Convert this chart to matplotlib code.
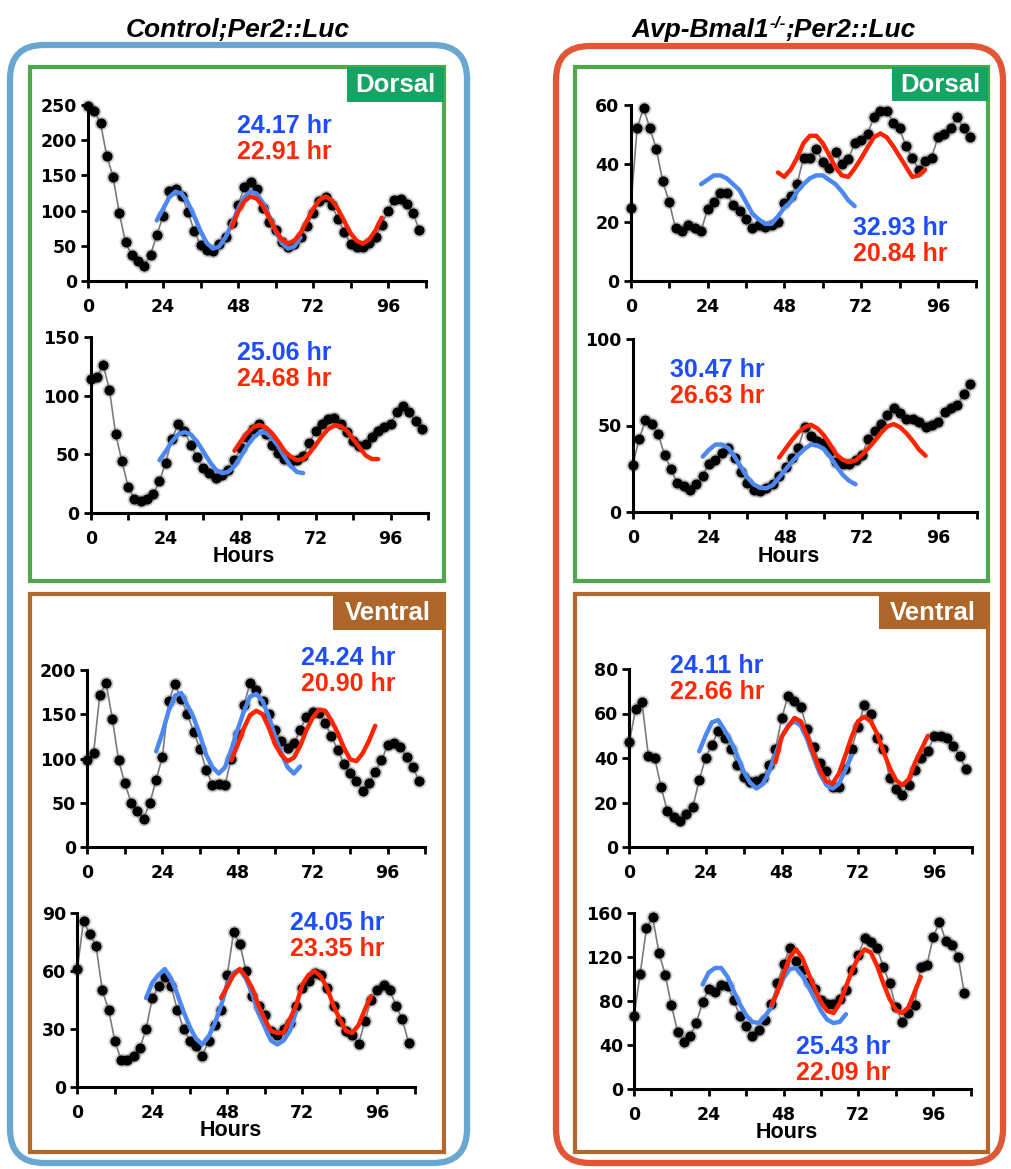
import matplotlib.pyplot as plt
import numpy as np
from matplotlib.patches import FancyBboxPatch, Rectangle

# --- data: bioluminescence traces sampled every 2 h (0..106 h) ---
hours = np.arange(0, 107, 2)

ctl_d1 = [248, 242, 224, 178, 148, 97, 55, 37, 28, 22,
          37, 65, 92, 128, 131, 121, 98, 71, 51, 44,
          43, 52, 63, 82, 108, 133, 141, 131, 103, 84,
          72, 56, 48, 52, 62, 78, 96, 114, 120, 108,
          88, 70, 53, 49, 48, 54, 62, 80, 100, 115,
          116, 110, 97, 72]
ctl_d2 = [114, 116, 126, 105, 67, 44, 22, 12, 10, 12,
          16, 27, 43, 63, 76, 70, 58, 48, 38, 34,
          30, 32, 37, 45, 55, 65, 72, 76, 67, 58,
          51, 46, 44, 45, 49, 60, 70, 76, 80, 81,
          76, 69, 61, 57, 59, 65, 70, 73, 76, 86,
          91, 86, 78, 72]
ctl_v1 = [98, 106, 172, 185, 145, 98, 72, 50, 41, 32,
          50, 76, 102, 165, 184, 167, 150, 130, 111, 87,
          70, 71, 70, 100, 128, 160, 185, 177, 165, 150,
          132, 120, 112, 117, 132, 147, 152, 151, 140, 125,
          110, 94, 84, 75, 63, 72, 85, 98, 115, 118,
          113, 102, 90, 75]
ctl_v2 = [61, 86, 79, 73, 50, 40, 24, 14, 14, 16,
          20, 30, 46, 52, 57, 52, 40, 30, 24, 21,
          16, 24, 32, 40, 58, 80, 74, 60, 47, 42,
          37, 29, 27, 30, 33, 42, 51, 55, 59, 58,
          51, 42, 34, 29, 27, 22, 34, 45, 50, 53,
          50, 42, 35, 23]
ko_d1 = [25, 52, 59, 52, 45, 34, 27, 18, 17, 19,
         18, 17, 24.5, 27, 30, 30, 26, 24, 21, 18,
         19, 18.5, 19, 20, 26.5, 29, 33, 42, 42, 45,
         40.5, 38.5, 44, 40, 41.5, 47, 48, 50, 56, 58,
         58, 54, 52, 46, 42, 38, 41, 42, 49, 50,
         52, 56, 52, 49]
ko_d2 = [27, 42, 53, 51, 45, 33, 25, 16.5, 15, 13,
         16, 21, 28, 30, 34, 37, 31, 23, 17, 13,
         12, 14, 16, 21, 26, 31, 37, 49, 44, 41,
         40, 35, 29, 28, 28, 30, 33, 42, 47, 51,
         56, 60, 57, 54, 54, 52, 49.4, 50.4, 52, 58,
         60, 62, 68, 74]
ko_v1 = [47, 62, 65, 41, 40, 27, 16, 13.5, 11.5, 15,
         18, 30, 40, 46, 52, 49, 44, 37, 31.5, 29.3,
         29.5, 31, 37, 44, 58, 68, 65.5, 63, 53, 45,
         37.6, 34, 27, 27, 35, 44, 54, 64, 60, 49,
         44, 31, 26, 23.5, 28, 34.5, 40, 43, 50, 49.7,
         49, 45.5, 41, 35]
ko_v2 = [66, 105, 146, 156, 124, 104, 76, 52, 43, 48,
         60, 79, 91, 88.5, 95, 94, 81, 66, 57, 48.5,
         53.7, 63, 77, 96, 114, 128, 116, 108, 97, 91,
         81, 77.5, 77, 82, 90, 108, 122, 137, 134, 128,
         111, 96, 75, 61, 69, 76, 111, 113, 138, 152,
         135, 131, 120, 87]

# --- fitted curves (2 h steps): (start hour, values) ---
ctl_d1_blue = (22, [86, 102, 119, 127, 124, 111, 92, 71, 54, 46, 49, 62,
                    81, 102, 119, 127, 124, 111, 92, 71, 54, 46, 49, 62])
ctl_d1_red = (46, [76, 98, 113, 120, 117, 106, 90, 72, 59, 53, 57, 68, 85,
                   102, 115, 120, 115, 102, 85, 68, 57, 53, 59, 72, 90])
ctl_d2_blue = (22, [45, 52.5, 61, 67, 69, 67, 61, 52.5, 44, 37, 34, 35,
                    40, 48, 57, 64, 68.5, 68.5, 64, 57, 48, 40, 35, 34])
ctl_d2_red = (46, [53, 61, 68, 73, 75, 73, 68, 61, 53, 48, 45, 46, 51, 58,
                   65.5, 71.5, 74.5, 74, 70, 63, 56, 49, 46, 46])
ctl_v1_blue = (22, [108, 129, 154, 171, 174, 160, 146, 126, 104, 90, 83, 90,
                    110, 132, 153, 170, 173, 165, 147, 125, 106, 90, 83, 91])
ctl_v1_red = (46, [98, 115, 134, 149, 154, 150, 135, 116, 104, 97, 101, 114,
                   132, 146, 155, 154, 143, 129, 112, 99, 97, 106, 120, 137])
ctl_v2_blue = (22, [46, 54, 58, 61, 56, 48, 39, 31, 25, 22, 26, 33, 42, 53,
                    59, 61, 56, 48, 38, 31, 24, 22, 24, 29, 39])
ctl_v2_red = (46, [46, 52, 58, 61, 57, 51, 42, 35, 29, 28, 28, 35, 42, 53,
                   58, 60, 57, 51, 42, 35, 29, 28, 32, 40, 47])
ko_d1_blue = (22, [33, 34.5, 36, 36, 35, 33, 31, 27, 23, 21, 19.5, 19.5, 22,
                   25, 27, 30.5, 33, 35, 36, 36, 34.5, 33, 30.5, 27.5, 25.5])
ko_d1_red = (46, [37, 35.5, 38, 42, 47, 49.5, 49.5, 47, 43, 38.7, 36, 35.5,
                  38.4, 41.8, 45.5, 49, 50.3, 49, 46, 42.5, 39, 35.5, 36, 38])
ko_d2_blue = (22, [32, 36, 39, 39, 37, 32, 26, 20, 16, 14, 13.7, 15.5, 20,
                   24.5, 29, 33, 36.5, 39, 38.5, 36.5, 32, 26.5, 21.5, 18, 16])
ko_d2_red = (46, [31.5, 36.5, 41.5, 46, 49, 50.4, 48.3, 44.5, 39, 33.2, 30.2,
                  28.8, 29.8, 33, 36.8, 41, 45.8, 49.5, 50.8, 49, 45.5, 41,
                  36, 32.5])
ko_v1_blue = (22, [43, 50, 56, 57, 52.5, 47.5, 41, 34, 29, 26.3, 28.2, 33.8,
                   41.5, 49.5, 54.5, 56.5, 54.5, 48.5, 40.5, 33, 28, 26.2,
                   28.5, 34.5, 41])
ko_v1_red = (46, [38, 49.6, 54, 58, 56.5, 50, 42, 34.5, 29.5, 28.6, 33, 41,
                  49.5, 56.5, 58.6, 56.5, 51, 43, 35.5, 30, 27.8, 30.5, 38,
                  44, 50])
ko_v2_blue = (22, [95, 106, 110, 110, 102, 89, 77, 67, 61, 60, 66, 74, 89,
                   101, 109, 110, 103, 93, 82, 71, 63, 60, 61, 68])
ko_v2_red = (44, [76, 88, 105, 120, 127, 119, 105, 91, 79, 71, 69, 78, 93,
                  108, 120, 127, 124, 112, 96, 82, 72, 69, 74, 88, 102])

periods = {
    'ctl_d1': ('24.17 hr', '22.91 hr'), 'ctl_d2': ('25.06 hr', '24.68 hr'),
    'ctl_v1': ('24.24 hr', '20.90 hr'), 'ctl_v2': ('24.05 hr', '23.35 hr'),
    'ko_d1': ('32.93 hr', '20.84 hr'), 'ko_d2': ('30.47 hr', '26.63 hr'),
    'ko_v1': ('24.11 hr', '22.66 hr'), 'ko_v2': ('25.43 hr', '22.09 hr'),
}

# --- layout (pixels, y measured from top) ---
W, H = 1011, 1169
BLUE_FIT, RED_FIT = '#4d88f0', '#ff2400'
BLUE_TXT, RED_TXT = '#1d4dfd', '#fd2a05'
HEL = 'Liberation Sans'

# name, trace, blue fit, red fit, ymax, ystep, axes box (left, bottom, w, h), text xy, hours label
panels = [
    ('ctl_d1', ctl_d1, ctl_d1_blue, ctl_d1_red, 250, 50, (88, 281, 337.5, 176), (284, 126), False),
    ('ctl_d2', ctl_d2, ctl_d2_blue, ctl_d2_red, 150, 50, (90.7, 513, 337.5, 176), (284, 353), True),
    ('ctl_v1', ctl_v1, ctl_v1_blue, ctl_v1_red, 200, 50, (87.3, 847, 338, 177), (348, 658), False),
    ('ctl_v2', ctl_v2, ctl_v2_blue, ctl_v2_red, 90, 30, (77.3, 1087, 337.5, 174), (337, 923), True),
    ('ko_d1', ko_d1, ko_d1_blue, ko_d1_red, 60, 20, (630.7, 281, 345.6, 176), (900, 228), False),
    ('ko_d2', ko_d2, ko_d2_blue, ko_d2_red, 100, 50, (632.7, 512, 343.8, 173), (717, 370), True),
    ('ko_v1', ko_v1, ko_v1_blue, ko_v1_red, 80, 20, (629.3, 847, 343, 178), (717, 666), False),
    ('ko_v2', ko_v2, ko_v2_blue, ko_v2_red, 160, 40, (634, 1089, 336.6, 176), (843, 1047), True),
]

plt.rcParams['font.family'] = 'DejaVu Sans'
fig = plt.figure(figsize=(W / 100, H / 100), dpi=100)

bg = fig.add_axes([0, 0, 1, 1])
bg.set_xlim(0, W)
bg.set_ylim(H, 0)
bg.axis('off')

# outer rounded frames
bg.add_patch(FancyBboxPatch((10, 45), 457, 1118, boxstyle='round,pad=0,rounding_size=34',
                            fill=False, ec='#69a7d1', lw=4.5))
bg.add_patch(FancyBboxPatch((556, 46), 447, 1117, boxstyle='round,pad=0,rounding_size=34',
                            fill=False, ec='#e05636', lw=4.5))
# dorsal / ventral frames
for x0, w in [(29.5, 414.5), (575, 413)]:
    bg.add_patch(Rectangle((x0, 67), w, 514, fill=False, ec='#4fa84b', lw=3))
    bg.add_patch(Rectangle((x0, 594), w, 558, fill=False, ec='#b0682c', lw=3))
labels = [((347, 67, 97, 35), 'Dorsal', '#15a464'), ((333, 594, 109, 36), 'Ventral', '#ad6529'),
          ((892, 67, 96, 34), 'Dorsal', '#15a464'), ((879, 594, 108, 35), 'Ventral', '#ad6529')]
for (x0, y0, w, h), lab, col in labels:
    bg.add_patch(Rectangle((x0, y0), w, h, fc=col, ec='none'))
    bg.text(x0 + w / 2, y0 + h / 2 + 1, lab, ha='center', va='center', color='white',
            fontsize=18.5, fontweight='bold', family=HEL)

# titles
bg.text(238, 37, 'Control;Per2::Luc', ha='center', va='baseline', fontsize=19,
        fontweight='bold', fontstyle='italic', family=HEL)
t1 = bg.text(632, 37, 'Avp-Bmal1', ha='left', va='baseline', fontsize=19,
             fontweight='bold', fontstyle='italic', family=HEL)
t2 = bg.annotate('-/-', xy=(1, 1.08), xycoords=t1, ha='left', va='top', fontsize=12.5,
                 fontweight='bold', fontstyle='italic', family=HEL)
bg.annotate(';Per2::Luc', xy=(1, 0), xycoords=(t2, t1), ha='left', va='bottom', fontsize=19,
            fontweight='bold', fontstyle='italic', family=HEL)

for name, trace, blue, red, ymax, ystep, (l, b, w, h), (tx, ty), show_hours in panels:
    ax = fig.add_axes([l / W, 1 - b / H, w / W, h / H])
    ax.patch.set_visible(False)
    ax.plot(hours, trace, 'o', ms=10, color='black', alpha=0.2, mec='none', clip_on=False, zorder=1)
    ax.plot(hours, trace, '-o', color='#7a7a7a', lw=1.2, ms=6.3, mfc='black', mec='black',
            clip_on=False, zorder=2)
    for (t0, vals), col in [(blue, BLUE_FIT), (red, RED_FIT)]:
        ax.plot(t0 + 2 * np.arange(len(vals)), vals, color=col, lw=3.2,
                solid_capstyle='round', solid_joinstyle='round', zorder=3)
    ax.set_xlim(0, 108)
    ax.set_ylim(0, ymax)
    ax.set_xticks(np.arange(0, 109, 12))
    ax.set_xticklabels(['0', '', '24', '', '48', '', '72', '', '96', ''])
    ax.set_yticks(np.arange(0, ymax + 1, ystep))
    for s in ['top', 'right']:
        ax.spines[s].set_visible(False)
    for s in ['left', 'bottom']:
        ax.spines[s].set_linewidth(2.2)
    ax.tick_params(axis='both', direction='out', length=5, width=2, labelsize=12.5)
    ax.tick_params(axis='x', pad=7)
    ax.tick_params(axis='y', pad=3)
    for lbl in ax.get_xticklabels() + ax.get_yticklabels():
        lbl.set_fontweight('bold')
    if show_hours:
        bg.text(l + 49 * w / 108, b + 44, 'Hours', ha='center', va='center',
                fontsize=15.5, fontweight='bold', family=HEL)
    p_blue, p_red = periods[name]
    bg.text(tx, ty, p_blue, ha='center', va='center', color=BLUE_TXT,
            fontsize=18, fontweight='bold', family=HEL, zorder=5)
    bg.text(tx, ty + 26, p_red, ha='center', va='center', color=RED_TXT,
            fontsize=18, fontweight='bold', family=HEL, zorder=5)

fig.savefig('out.png', dpi=100)
